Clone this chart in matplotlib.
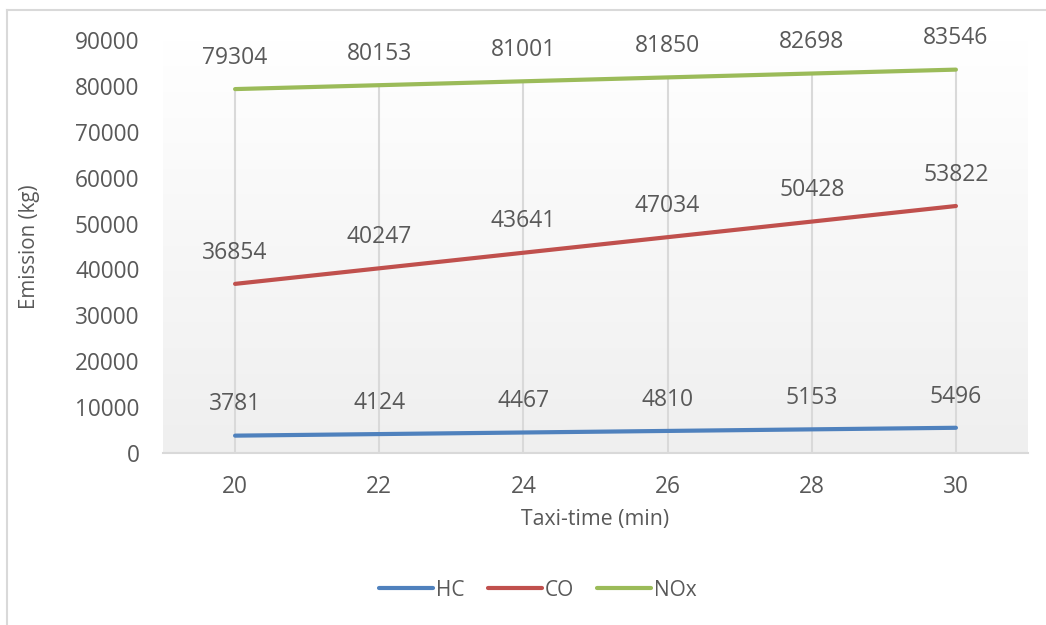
import numpy as np
import matplotlib
matplotlib.use("Agg")
import matplotlib.pyplot as plt
from matplotlib.lines import Line2D

# Taxi-time (min) and emission totals (kg)
taxi_time = [20, 22, 24, 26, 28, 30]
hc = [3781, 4124, 4467, 4810, 5153, 5496]
co = [36854, 40247, 43641, 47034, 50428, 53822]
nox = [79304, 80153, 81001, 81850, 82698, 83546]

series_names = ["HC", "CO", "NOx"]
series_values = [hc, co, nox]
series_colors = ["#4F81BD", "#C0504D", "#9BBB59"]

text_color = "#595959"
grid_color = "#D9D9D9"

plt.rcParams["font.family"] = ["Open Sans", "DejaVu Sans"]

fig = plt.figure(figsize=(10.46, 6.25), dpi=100)
fig.patch.set_facecolor("white")

# Chart border (left and top edges)
fig.add_artist(Line2D([7 / 1046, 7 / 1046], [0, 1 - 10 / 625],
                      transform=fig.transFigure, color="#D9D9D9", lw=1.5))
fig.add_artist(Line2D([7 / 1046, 1], [1 - 10 / 625, 1 - 10 / 625],
                      transform=fig.transFigure, color="#D9D9D9", lw=1.5))

ax = fig.add_axes([163 / 1046, (625 - 453) / 625, (1028 - 163) / 1046, (453 - 40) / 625])
ax.set_facecolor("white")

# Plot-area gradient: white at top fading to light grey at bottom
grad = np.linspace(1.0, 0.0, 256).reshape(-1, 1)
top = np.array([1.0, 1.0, 1.0])
bottom = np.array([0.937, 0.937, 0.937])
img = bottom + (top - bottom) * grad[..., None]
ax.imshow(img, extent=[0, 1, 0, 1], transform=ax.transAxes, aspect="auto",
          zorder=0, interpolation="bilinear")

ax.set_xlim(taxi_time[0] - 1, taxi_time[-1] + 1)
ax.set_ylim(0, 90000)
ax.set_xticks(taxi_time)
ax.set_yticks(np.arange(0, 90001, 10000))

# Drop lines from the highest series down to the axis
highest = [max(vals) for vals in zip(*series_values)]
ax.vlines(taxi_time, 0, highest, colors=grid_color, lw=1.5, zorder=1)

for name, vals, col in zip(series_names, series_values, series_colors):
    ax.plot(taxi_time, vals, color=col, lw=3, solid_capstyle="round", zorder=3, label=name)
    for x, v in zip(taxi_time, vals):
        ax.annotate(f"{v}", (x, v), xytext=(0, 22.5), textcoords="offset points",
                    ha="center", va="center", fontsize=16.5, color=text_color, zorder=4)

for s in ["left", "right", "top"]:
    ax.spines[s].set_visible(False)
ax.spines["bottom"].set_color(grid_color)
ax.spines["bottom"].set_linewidth(1.5)

ax.tick_params(axis="both", length=0, labelsize=16.3, labelcolor=text_color)
ax.tick_params(axis="y", pad=17)
ax.tick_params(axis="x", pad=16)

fig.text(30 / 1046, 1 - 247 / 625, "Emission (kg)", rotation=90, ha="center", va="center",
         fontsize=14.8, color=text_color)
fig.text(595 / 1046, 1 - 520 / 625, "Taxi-time (min)", ha="center", va="center",
         fontsize=15.3, color=text_color)

handles, labels = ax.get_legend_handles_labels()
leg = fig.legend(handles, labels, loc="center", bbox_to_anchor=(538 / 1046, 1 - 590 / 625),
                 ncol=3, frameon=False, fontsize=15, handlelength=2.6, handletextpad=0.15,
                 columnspacing=1.1)
for t in leg.get_texts():
    t.set_color(text_color)

fig.savefig("out.png", dpi=100, facecolor="white")
